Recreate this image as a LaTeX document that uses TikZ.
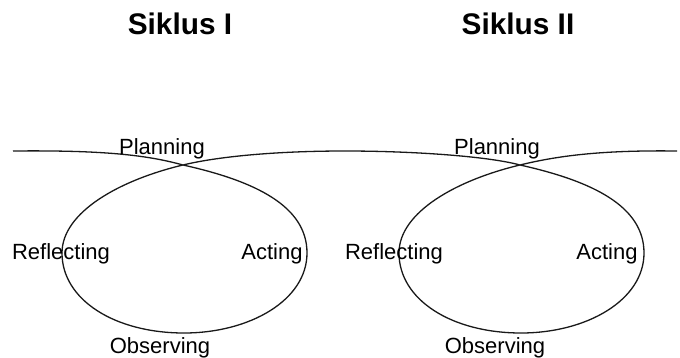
\documentclass[tikz,border=0pt]{standalone}
\usepackage{fontspec}
\setmainfont{Liberation Sans}
\begin{document}
\begin{tikzpicture}[x=1pt,y=-1pt,
  lbl/.style={anchor=base,inner sep=0pt,font=\fontsize{22}{25}\selectfont},
  ttl/.style={anchor=base,inner sep=0pt,font=\fontsize{29.8}{32}\selectfont\bfseries},
  curve/.style={line width=1.3pt,black!90}]
\useasboundingbox (0,0) rectangle (680,358);
% titles
\node[ttl] (t1) at (180,35) {Siklus I};
\node[ttl] (t2) at (518,35) {Siklus II};
% the double loop
\draw[curve]
  (13,151) .. controls (110,150) and (150,156) .. (183,165)
  .. controls (255,181) and (307,206) .. (307,253)
  .. controls (307,300) and (250,333) .. (184,333)
  .. controls (115,333) and (62,300) .. (62,253)
  .. controls (62,212) and (120,180) .. (183,165)
  .. controls (220,156) and (280,151) .. (345,151)
  .. controls (410,151) and (487,156) .. (520,165)
  .. controls (592,181) and (644,206) .. (644,253)
  .. controls (644,300) and (587,333) .. (521,333)
  .. controls (452,333) and (399,300) .. (399,253)
  .. controls (399,212) and (457,180) .. (520,165)
  .. controls (557,156) and (600,150) .. (677,151);
% labels cycle I
\node[lbl] (p1) at (162,155) {Planning};
\node[lbl] (a1) at (272,259) {Acting};
\node[lbl] (o1) at (160,353) {Observing};
\node[lbl] (r1) at (61,259) {Reflecting};
% labels cycle II
\node[lbl] (p2) at (497,155) {Planning};
\node[lbl] (a2) at (607,259) {Acting};
\node[lbl] (o2) at (495,353) {Observing};
\node[lbl] (r2) at (394,259) {Reflecting};
\end{tikzpicture}
\end{document}
